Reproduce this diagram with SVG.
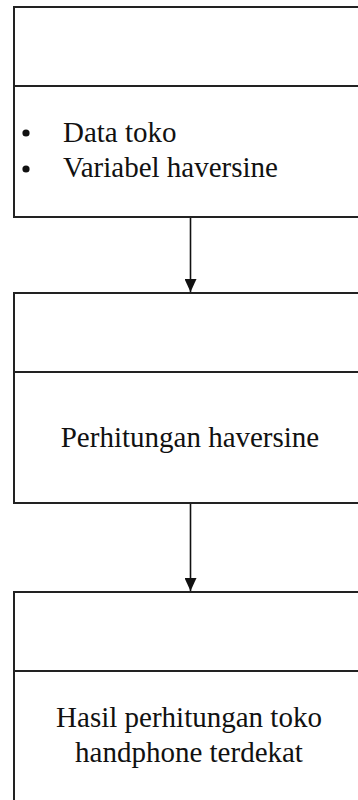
<svg xmlns="http://www.w3.org/2000/svg" width="358" height="800" viewBox="0 0 358 800">
<defs>
<style>
.box{fill:#ffffff;stroke:#222222;stroke-width:2}
.div{stroke:#222222;stroke-width:2}
.t{font-size:29px;fill:#111111}
.c{text-anchor:middle}
.edge{stroke:#111111;stroke-width:1.6;fill:none}
</style>
<marker id="ah" markerWidth="13" markerHeight="12" refX="13" refY="6" orient="auto" markerUnits="userSpaceOnUse" viewBox="0 0 13 12">
<path d="M0,0 L13,6 L0,12 Z" fill="#111111"/>
</marker>
</defs>
<rect width="358" height="800" fill="#ffffff"/>
<g id="node-input">
<rect class="box" x="14" y="7" width="352" height="210"/>
<line class="div" x1="14" y1="86" x2="366" y2="86"/>
<circle cx="26" cy="133" r="3.6" fill="#111111"/>
<circle cx="26" cy="169" r="3.6" fill="#111111"/>
<text class="t" font-family="Liberation Serif, Times New Roman, DejaVu Serif, serif" x="63" y="142">Data toko</text>
<text class="t" font-family="Liberation Serif, Times New Roman, DejaVu Serif, serif" x="63" y="177">Variabel haversine</text>
</g>
<g id="node-process">
<rect class="box" x="14" y="293" width="352" height="210"/>
<line class="div" x1="14" y1="372" x2="366" y2="372"/>
<text class="t c" font-family="Liberation Serif, Times New Roman, DejaVu Serif, serif" x="190" y="447">Perhitungan haversine</text>
</g>
<g id="node-output">
<rect class="box" x="14" y="592" width="352" height="230"/>
<line class="div" x1="14" y1="671" x2="366" y2="671"/>
<text class="t c" font-family="Liberation Serif, Times New Roman, DejaVu Serif, serif" x="189" y="727">Hasil perhitungan toko</text>
<text class="t c" font-family="Liberation Serif, Times New Roman, DejaVu Serif, serif" x="189" y="762">handphone terdekat</text>
</g>
<g id="connectors">
<line class="edge" x1="190.5" y1="218" x2="190.5" y2="292" marker-end="url(#ah)"/>
<line class="edge" x1="190.5" y1="504" x2="190.5" y2="591" marker-end="url(#ah)"/>
</g>
</svg>
